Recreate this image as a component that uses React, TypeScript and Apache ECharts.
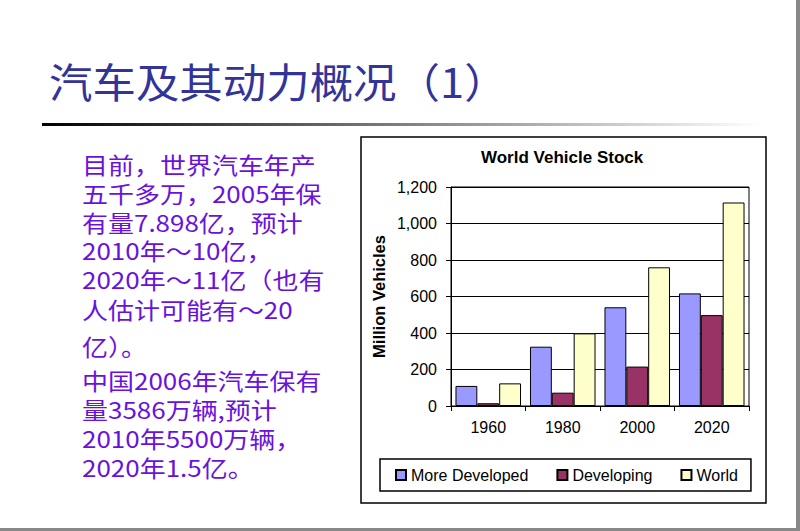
import React, { useEffect, useRef } from "react";
import * as echarts from "echarts";

const categories = ["1960", "1980", "2000", "2020"];
const moreDeveloped = [110, 325, 541, 617];
const developing = [15, 73, 216, 498];
const world = [124, 398, 760, 1115];
const seriesNames = ["More Developed", "Developing", "World"];

const slideTitle = "汽车及其动力概况（1）";
const chartTitle = "World Vehicle Stock";
const yAxisTitle = "Million Vehicles";
const bodyLines = [
  "目前，世界汽车年产",
  "五千多万，2005年保",
  "有量7.898亿，预计",
  "2010年～10亿，",
  "2020年～11亿（也有",
  "人估计可能有～20",
  "亿）。",
  "中国2006年汽车保有",
  "量3586万辆,预计",
  "2010年5500万辆，",
  "2020年1.5亿。",
];
const bodyLineY = [164, 193, 222, 250, 279, 309, 346, 380, 409, 438, 467];

const LATIN = "Arial, 'Liberation Sans', sans-serif";
const CJK = "'Noto Sans CJK SC', sans-serif";

export default function App() {
  const ref = useRef<HTMLDivElement>(null);
  useEffect(() => {
    if (!ref.current) return;
    const chart = echarts.init(ref.current, undefined, { renderer: "svg" });
    const bodyTexts = bodyLines.map((t, i) => ({
      type: "text",
      x: 82,
      y: bodyLineY[i],
      scaleX: 1.13,
      style: {
        text: t,
        fontSize: 23,
        fontFamily: CJK,
        fill: "#6A12DC",
        align: "left",
        verticalAlign: "middle",
      },
    }));
    chart.setOption({
      animation: false,
      backgroundColor: "#ffffff",
      title: {
        text: chartTitle,
        left: 481,
        top: 149,
        padding: 0,
        textStyle: { fontSize: 17, fontWeight: "bold", color: "#000", fontFamily: LATIN },
      },
      legend: {
        data: seriesNames,
        left: 380,
        top: 459,
        orient: "horizontal",
        itemWidth: 10,
        itemHeight: 10,
        itemGap: 28,
        padding: [8, 13, 8, 15],
        borderColor: "#000",
        borderWidth: 1.5,
        icon: "rect",
        textStyle: { fontSize: 16, color: "#000", fontFamily: LATIN },
      },
      grid: {
        left: 451,
        right: 51,
        top: 187,
        bottom: 125,
        show: true,
        borderColor: "#000",
        borderWidth: 1,
        backgroundColor: "transparent",
      },
      xAxis: {
        type: "category",
        data: categories,
        boundaryGap: true,
        axisLine: { lineStyle: { color: "#000", width: 1 } },
        axisTick: { show: true, length: 5, inside: false, lineStyle: { color: "#000" } },
        axisLabel: { margin: 13, fontSize: 16, color: "#000", fontFamily: LATIN },
        splitLine: { show: false },
      },
      yAxis: {
        type: "value",
        min: 0,
        max: 1200,
        interval: 200,
        name: yAxisTitle,
        nameLocation: "middle",
        nameGap: 64,
        nameRotate: 90,
        nameTextStyle: { fontSize: 16.5, fontWeight: "bold", color: "#000", fontFamily: LATIN },
        axisLine: { show: true, lineStyle: { color: "#000", width: 1 } },
        axisTick: { show: true, length: 5, lineStyle: { color: "#000" } },
        axisLabel: {
          margin: 14,
          fontSize: 16,
          color: "#000",
          fontFamily: LATIN,
          formatter: (v: number) => v.toLocaleString("en-US"),
        },
        splitLine: { show: true, lineStyle: { color: "#000", width: 1 } },
      },
      series: [
        {
          name: seriesNames[0],
          type: "bar",
          data: moreDeveloped,
          barGap: "0%",
          barCategoryGap: "12%",
          itemStyle: { color: "#9999FF", borderColor: "#000", borderWidth: 1 },
        },
        {
          name: seriesNames[1],
          type: "bar",
          data: developing,
          barGap: "0%",
          barCategoryGap: "12%",
          itemStyle: { color: "#993366", borderColor: "#000", borderWidth: 1 },
        },
        {
          name: seriesNames[2],
          type: "bar",
          data: world,
          barGap: "0%",
          barCategoryGap: "12%",
          itemStyle: { color: "#FFFFCC", borderColor: "#000", borderWidth: 1 },
        },
      ],
      graphic: [
        {
          type: "text",
          x: 49,
          y: 80,
          scaleX: 1.06,
          style: {
            text: slideTitle,
            fontSize: 41,
            fontFamily: CJK,
            fill: "#333399",
            align: "left",
            verticalAlign: "middle",
          },
        },
        {
          type: "rect",
          shape: { x: 42, y: 123, width: 720, height: 3 },
          style: {
            fill: {
              type: "linear",
              x: 0,
              y: 0,
              x2: 1,
              y2: 0,
              colorStops: [
                { offset: 0, color: "#000000" },
                { offset: 1, color: "#ffffff" },
              ],
            },
          },
        },
        {
          type: "rect",
          shape: { x: 361, y: 137, width: 405, height: 366 },
          style: { fill: "none", stroke: "#000", lineWidth: 1.5 },
          z: -1,
        },
        {
          type: "rect",
          shape: { x: 796, y: 0, width: 4, height: 531 },
          style: { fill: "#888888" },
        },
        {
          type: "rect",
          shape: { x: 0, y: 528, width: 800, height: 3 },
          style: { fill: "#888888" },
        },
        ...bodyTexts,
      ],
    });
    return () => chart.dispose();
  }, []);
  return (
    <div
      ref={ref}
      style={{ position: "fixed", left: 0, top: 0, width: 800, height: 531 }}
    />
  );
}
